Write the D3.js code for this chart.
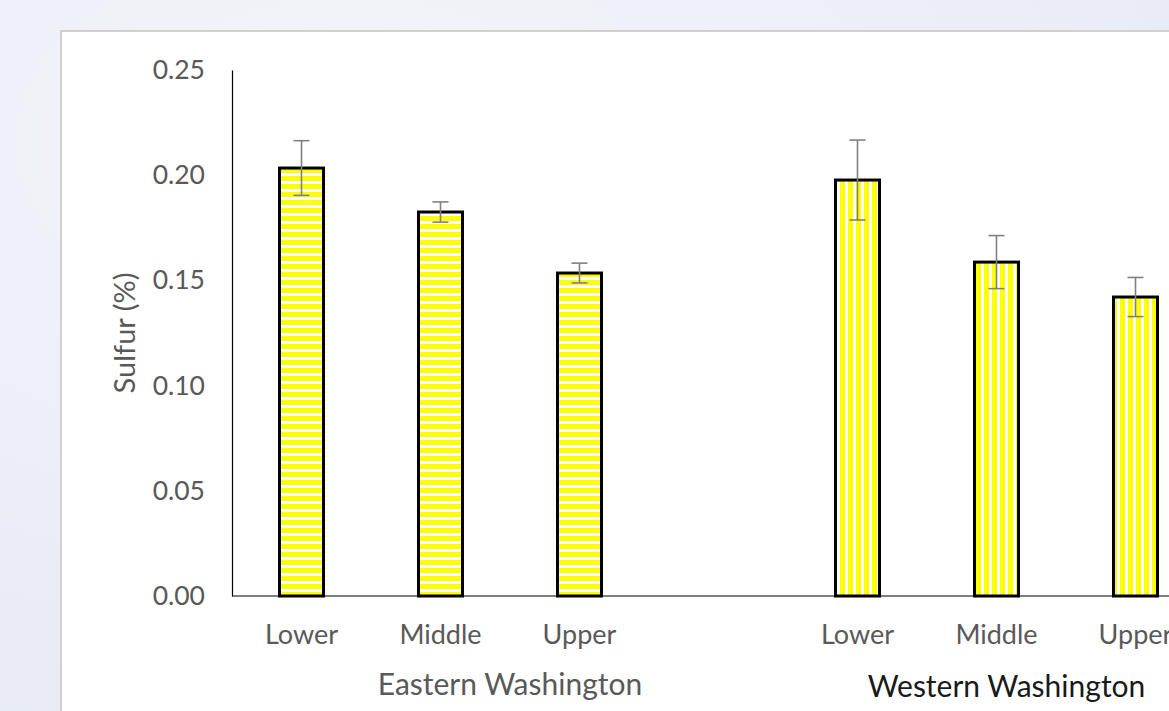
<!DOCTYPE html>
<html>
<head>
<meta charset="utf-8">
<script src="https://cdn.jsdelivr.net/npm/d3@7"></script>
<style>
  html, body { margin: 0; padding: 0; }
  body { width: 1169px; height: 711px; overflow: hidden; background: #eef0f7; }
  svg { display: block; }
</style>
</head>
<body>
<svg id="chart" width="1169" height="711"></svg>
<script>
// Sulfur content by canopy position, Eastern vs Western Washington
const groups = ["Eastern Washington", "Western Washington"];
const positions = ["Lower", "Middle", "Upper"];
const eastValues = [0.2034, 0.1825, 0.1535];
const eastErrors = [0.0130, 0.0048, 0.0047];
const westValues = [0.1977, 0.1587, 0.1421];
const westErrors = [0.0190, 0.0126, 0.0093];
const yTicks = [0, 0.05, 0.10, 0.15, 0.20, 0.25];

const rows = [];
positions.forEach((p, i) => rows.push({ group: 0, pos: p, slot: "E" + i, value: eastValues[i], err: eastErrors[i] }));
positions.forEach((p, i) => rows.push({ group: 1, pos: p, slot: "W" + i, value: westValues[i], err: westErrors[i] }));

// eight slots: three per group, with an empty slot between groups (and one trailing)
const slots = ["E0", "E1", "E2", "gap", "W0", "W1", "W2", "end"];

const svg = d3.select("#chart");
const W = 1169, H = 711;

// soft backdrop around the chart panel
const defs = svg.append("defs");
const bg = defs.append("radialGradient").attr("id", "bgGrad")
  .attr("cx", "30%").attr("cy", "20%").attr("r", "90%");
bg.append("stop").attr("offset", "0%").attr("stop-color", "#f4f5fa");
bg.append("stop").attr("offset", "100%").attr("stop-color", "#e6eaf5");
svg.append("rect").attr("width", W).attr("height", H).attr("fill", "url(#bgGrad)");

// fill patterns
const hPat = defs.append("pattern").attr("id", "hStripes")
  .attr("patternUnits", "userSpaceOnUse").attr("width", 8).attr("height", 8);
hPat.append("rect").attr("width", 8).attr("height", 8).attr("fill", "#ffffff");
hPat.append("rect").attr("y", 0).attr("width", 8).attr("height", 5).attr("fill", "#ffff00");

const vPat = defs.append("pattern").attr("id", "vStripes")
  .attr("patternUnits", "userSpaceOnUse").attr("width", 8).attr("height", 8);
vPat.append("rect").attr("width", 8).attr("height", 8).attr("fill", "#ffffff");
vPat.append("rect").attr("x", 0).attr("width", 5).attr("height", 8).attr("fill", "#ffff00");

// white chart panel
svg.append("rect").attr("x", 61).attr("y", 31).attr("width", W).attr("height", H)
  .attr("fill", "#ffffff").attr("stroke", "#d0d0d0").attr("stroke-width", 2);

const x0 = 232, yTop = 70, yBot = 596;
const x = d3.scaleBand().domain(slots).range([x0, x0 + 139 * 8]).paddingInner(0).paddingOuter(0);
const y = d3.scaleLinear().domain([0, 0.25]).range([yBot, yTop]);
const barW = 44;

const font = "Lato, 'Open Sans', sans-serif";

// y axis
const yAxis = d3.axisLeft(y).tickValues(yTicks).tickFormat(d3.format(".2f")).tickSize(0).tickPadding(27);
const ya = svg.append("g").attr("transform", `translate(${x0},0)`).call(yAxis);
ya.select(".domain").attr("stroke", "#000").attr("stroke-width", 1.2);
ya.selectAll("text").attr("fill", "#595959").style("font-family", font).style("font-size", "26.5px");

// x baseline
svg.append("line").attr("x1", x0).attr("x2", W).attr("y1", yBot).attr("y2", yBot)
  .attr("stroke", "#000").attr("stroke-width", 1.2);

// y title
svg.append("text")
  .attr("transform", `translate(135,${(yTop + yBot) / 2}) rotate(-90)`)
  .attr("text-anchor", "middle")
  .attr("fill", "#595959").style("font-family", font).style("font-size", "29px")
  .text("Sulfur (%)");

const cx = d => x(d.slot) + x.bandwidth() / 2;

// bars
svg.append("g").selectAll("rect").data(rows).join("rect")
  .attr("x", d => cx(d) - barW / 2)
  .attr("y", d => y(d.value))
  .attr("width", barW)
  .attr("height", d => y(0) - y(d.value))
  .attr("fill", d => d.group === 0 ? "url(#hStripes)" : "url(#vStripes)")
  .attr("stroke", "#000").attr("stroke-width", 3);

// error bars
const eb = svg.append("g").attr("stroke", "#808080").attr("stroke-width", 1.6);
rows.forEach(d => {
  const c = cx(d), t = y(d.value + d.err), b = y(d.value - d.err);
  eb.append("line").attr("x1", c).attr("x2", c).attr("y1", t).attr("y2", b);
  eb.append("line").attr("x1", c - 8).attr("x2", c + 8).attr("y1", t).attr("y2", t);
  eb.append("line").attr("x1", c - 8).attr("x2", c + 8).attr("y1", b).attr("y2", b);
});

// category labels
svg.append("g").selectAll("text").data(rows).join("text")
  .attr("x", d => cx(d)).attr("y", 644)
  .attr("text-anchor", "middle")
  .attr("fill", "#595959").style("font-family", font).style("font-size", "27px")
  .text(d => d.pos);

// group labels
svg.append("text")
  .attr("x", x0 + 2 * x.bandwidth()).attr("y", 695)
  .attr("text-anchor", "middle")
  .attr("fill", "#595959").style("font-family", font).style("font-size", "30px")
  .text(groups[0]);
svg.append("text")
  .attr("x", x("W1") + x.bandwidth() / 2 + 10).attr("y", 697)
  .attr("text-anchor", "middle")
  .attr("fill", "#1a1a1a").style("font-family", font).style("font-size", "30px")
  .text(groups[1]);
</script>
</body>
</html>
